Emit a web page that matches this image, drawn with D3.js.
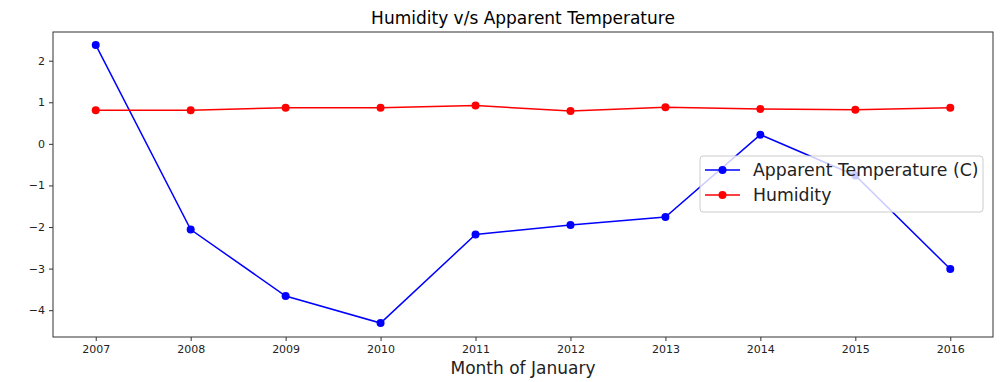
<!DOCTYPE html>
<html>
<head>
<meta charset="utf-8">
<script src="https://cdn.jsdelivr.net/npm/d3@7"></script>
<style>
  body { margin: 0; background: #fff; }
  text { font-family: "DejaVu Sans", sans-serif; }
</style>
</head>
<body>
<script>
var years = [2007, 2008, 2009, 2010, 2011, 2012, 2013, 2014, 2015, 2016];
var apparentTemp = [2.38, -2.06, -3.66, -4.31, -2.18, -1.95, -1.76, 0.22, -0.76, -3.01];
var humidity = [0.81, 0.81, 0.87, 0.87, 0.92, 0.79, 0.88, 0.84, 0.82, 0.87];
var yTicks = [-4, -3, -2, -1, 0, 1, 2];
var seriesNames = ["Apparent Temperature (C)", "Humidity"];
var seriesColors = ["#0000ff", "#ff0000"];

var width = 1007, height = 382;
var plotLeft = 53, plotRight = 993, plotTop = 32, plotBottom = 337;

var svg = d3.select("body").append("svg")
    .attr("width", width)
    .attr("height", height);

var x = d3.scaleLinear().domain([2006.55, 2016.45]).range([plotLeft, plotRight]);
var y = d3.scaleLinear().domain([-4.645, 2.69]).range([plotBottom, plotTop]);

// title
svg.append("text")
    .attr("x", (plotLeft + plotRight) / 2)
    .attr("y", 24)
    .attr("text-anchor", "middle")
    .attr("font-size", 17)
    .attr("fill", "#000")
    .text("Humidity v/s Apparent Temperature");

// axes
var xAxis = d3.axisBottom(x).tickValues(years).tickFormat(d3.format("d")).tickSize(4).tickPadding(4);
var yAxis = d3.axisLeft(y).tickValues(yTicks).tickFormat(function(d){ return d < 0 ? "\u2212" + Math.abs(d) : d; }).tickSize(4).tickPadding(4);

var gx = svg.append("g").attr("transform", "translate(0," + plotBottom + ")").call(xAxis);
var gy = svg.append("g").attr("transform", "translate(" + plotLeft + ",0)").call(yAxis);
[gx, gy].forEach(function(g){
    g.select(".domain").remove();
    g.selectAll("text").attr("font-size", 11).attr("fill", "#222").style("font-family", "DejaVu Sans, sans-serif");
    g.selectAll("line").attr("stroke", "#333");
});

svg.append("rect")
    .attr("x", plotLeft).attr("y", plotTop)
    .attr("width", plotRight - plotLeft).attr("height", plotBottom - plotTop)
    .attr("fill", "none").attr("stroke", "#333").attr("stroke-width", 1);

// x label
svg.append("text")
    .attr("x", (plotLeft + plotRight) / 2)
    .attr("y", 374)
    .attr("text-anchor", "middle")
    .attr("font-size", 17)
    .attr("fill", "#222")
    .text("Month of January");

var line = d3.line()
    .x(function(d){ return x(d[0]); })
    .y(function(d){ return y(d[1]); });

var allSeries = [apparentTemp, humidity];
allSeries.forEach(function(vals, i){
    var pts = years.map(function(yr, j){ return [yr, vals[j]]; });
    svg.append("path")
        .datum(pts)
        .attr("d", line)
        .attr("fill", "none")
        .attr("stroke", seriesColors[i])
        .attr("stroke-width", 1.5);
    svg.selectAll(null)
        .data(pts)
        .enter().append("circle")
        .attr("cx", function(d){ return x(d[0]); })
        .attr("cy", function(d){ return y(d[1]); })
        .attr("r", 4)
        .attr("fill", seriesColors[i]);
});

// legend
var lg = svg.append("g").attr("transform", "translate(700,156)");
lg.append("rect")
    .attr("width", 283).attr("height", 56)
    .attr("rx", 3)
    .attr("fill", "#fff").attr("fill-opacity", 0.8)
    .attr("stroke", "#ccc").attr("stroke-width", 1);
seriesNames.forEach(function(name, i){
    var ly = 14 + i * 25;
    lg.append("line")
        .attr("x1", 5).attr("x2", 40)
        .attr("y1", ly).attr("y2", ly)
        .attr("stroke", seriesColors[i]).attr("stroke-width", 1.5);
    lg.append("circle")
        .attr("cx", 22.5).attr("cy", ly).attr("r", 4)
        .attr("fill", seriesColors[i]);
    lg.append("text")
        .attr("x", 53).attr("y", ly + 6)
        .attr("font-size", 17.3)
        .attr("fill", "#222")
        .text(name);
});
</script>
</body>
</html>
